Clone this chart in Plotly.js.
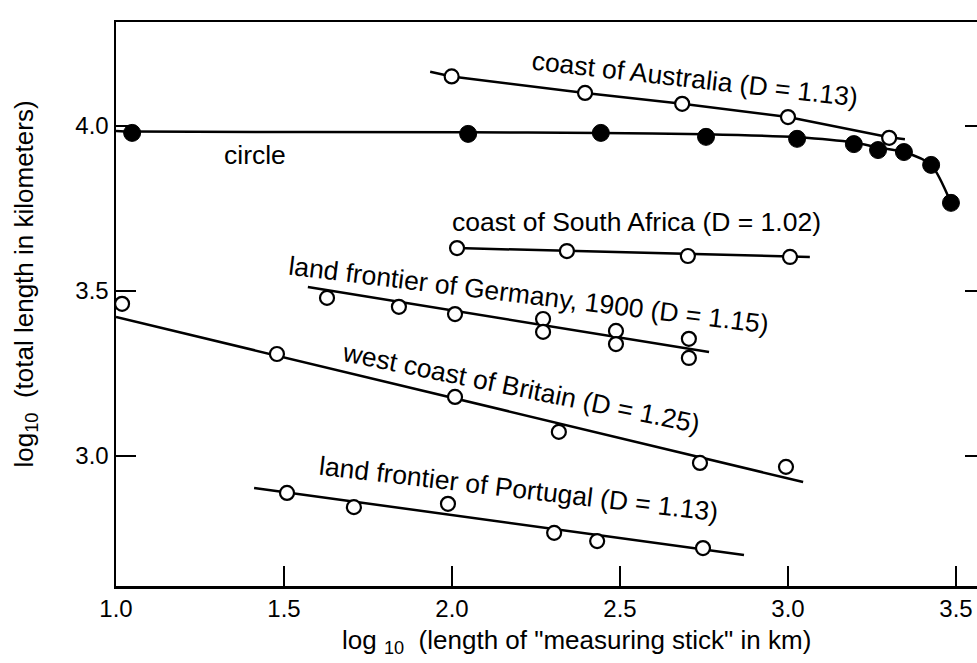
<!DOCTYPE html>
<html><head><meta charset="utf-8">
<script src="https://cdn.plot.ly/plotly-3.0.1.min.js"></script>
<style>html,body{margin:0;padding:0;background:#fff;}#chart{width:977px;height:663px;}</style>
</head><body><div id="chart"></div>
<script>
// ---- data (log10 stick length in km, log10 total length in km) ----
const circleX = [1.048, 2.048, 2.443, 2.756, 3.027, 3.196, 3.268, 3.345, 3.426, 3.485];
const circleY = [3.979, 3.976, 3.979, 3.967, 3.961, 3.945, 3.927, 3.921, 3.882, 3.767];
const circleLineX = [1.0, 1.048, 2.048, 2.443, 2.756, 3.027, 3.196, 3.268, 3.345, 3.426, 3.485];
const circleLineY = [3.985, 3.983, 3.981, 3.979, 3.975, 3.966, 3.950, 3.935, 3.921, 3.882, 3.767];

const australiaX = [1.999, 2.396, 2.685, 3.000, 3.301];
const australiaY = [4.150, 4.100, 4.067, 4.027, 3.964];
const australiaLineX = [1.935, 1.999, 2.396, 2.685, 3.000, 3.301, 3.348];
const australiaLineY = [4.164, 4.150, 4.100, 4.067, 4.027, 3.966, 3.960];

const southAfricaX = [2.015, 2.342, 2.702, 3.006];
const southAfricaY = [3.630, 3.621, 3.606, 3.603];
const southAfricaLineX = [2.015, 3.065];
const southAfricaLineY = [3.630, 3.603];

const germanyX = [1.628, 1.842, 2.009, 2.271, 2.271, 2.488, 2.488, 2.705, 2.705];
const germanyY = [3.479, 3.452, 3.430, 3.415, 3.376, 3.379, 3.339, 3.355, 3.297];
const germanyLineX = [1.571, 2.765];
const germanyLineY = [3.512, 3.315];

const britainX = [1.018, 1.479, 2.009, 2.318, 2.738, 2.994];
const britainY = [3.461, 3.309, 3.179, 3.073, 2.979, 2.967];
const britainLineX = [1.0, 3.045];
const britainLineY = [3.421, 2.921];

const portugalX = [1.509, 1.708, 1.988, 2.304, 2.432, 2.747];
const portugalY = [2.888, 2.845, 2.855, 2.767, 2.742, 2.721];
const portugalLineX = [1.411, 2.869];
const portugalLineY = [2.903, 2.700];

const xTicks = [1.0, 1.5, 2.0, 2.5, 3.0, 3.5];
const yTicks = [3.0, 3.5, 4.0];

const labels = [
  {text: 'coast of Australia (D = 1.13)', x: 2.723, y: 4.142, angle: 6.5},
  {text: 'circle', x: 1.414, y: 3.912, angle: 0},
  {text: 'coast of South Africa (D = 1.02)', x: 2.548, y: 3.709, angle: 0},
  {text: 'land frontier of Germany, 1900 (D = 1.15)', x: 2.229, y: 3.488, angle: 7},
  {text: 'west coast of Britain (D = 1.25)', x: 2.205, y: 3.206, angle: 11.5},
  {text: 'land frontier of Portugal (D = 1.13)', x: 2.199, y: 2.900, angle: 6.7}
];

// ---- styling ----
const FONT = 'Liberation Sans, Arial, Helvetica, sans-serif';
const lineStyle = {color: '#000', width: 2.5};
const openMarker = {symbol: 'circle', size: 14, color: '#fff', line: {color: '#000', width: 2.2}};
const filledMarker = {symbol: 'circle', size: 17, color: '#000', line: {color: '#000', width: 1}};

function lineTrace(x, y, shape) {
  return {x: x, y: y, type: 'scatter', mode: 'lines', line: Object.assign({shape: shape || 'linear', smoothing: 0.7}, lineStyle), hoverinfo: 'skip', showlegend: false};
}
function markTrace(x, y, name, marker) {
  return {x: x, y: y, type: 'scatter', mode: 'markers', name: name, marker: marker, showlegend: false};
}

const traces = [
  lineTrace(circleLineX, circleLineY, 'spline'),
  lineTrace(australiaLineX, australiaLineY),
  lineTrace(southAfricaLineX, southAfricaLineY),
  lineTrace(germanyLineX, germanyLineY),
  lineTrace(britainLineX, britainLineY),
  lineTrace(portugalLineX, portugalLineY),
  markTrace(circleX, circleY, 'circle', filledMarker),
  markTrace(australiaX, australiaY, 'coast of Australia', openMarker),
  markTrace(southAfricaX, southAfricaY, 'coast of South Africa', openMarker),
  markTrace(germanyX, germanyY, 'land frontier of Germany, 1900', openMarker),
  markTrace(britainX, britainY, 'west coast of Britain', openMarker),
  markTrace(portugalX, portugalY, 'land frontier of Portugal', openMarker),
  // invisible trace to carry the right-hand tick axis
  {x: [1.0], y: [3.0], type: 'scatter', mode: 'markers', yaxis: 'y2', marker: {opacity: 0}, hoverinfo: 'skip', showlegend: false}
];

const annotations = labels.map(l => ({
  x: l.x, y: l.y, xref: 'x', yref: 'y', text: l.text, showarrow: false,
  textangle: l.angle, font: {family: FONT, size: 26.5, color: '#000'}
}));
annotations.push({
  xref: 'paper', yref: 'paper', x: 0.535, y: -0.068, xanchor: 'center', yanchor: 'top',
  text: 'log <sub>10</sub>\u00a0 (length of "measuring stick" in km)', showarrow: false,
  borderpad: 0,
  font: {family: FONT, size: 26, color: '#000'}
});
annotations.push({
  xref: 'paper', yref: 'paper', x: -0.105, y: 0.5357, xanchor: 'center', yanchor: 'middle',
  text: 'log<sub>10</sub>\u00a0 (total length in kilometers)', showarrow: false, textangle: -90,
  font: {family: FONT, size: 26, color: '#000'}
});

const layout = {
  width: 977, height: 663,
  margin: {l: 116, r: 0, t: 22, b: 77},
  paper_bgcolor: '#fff', plot_bgcolor: '#fff',
  showlegend: false,
  font: {family: FONT, size: 24, color: '#000'},
  xaxis: {
    range: [1.0, 3.5625], tickvals: xTicks, ticktext: xTicks.map(v => v.toFixed(1)),
    ticks: 'inside', ticklen: 20, tickwidth: 2, tickcolor: '#000',
    showline: true, linewidth: 2.5, linecolor: '#000', mirror: true,
    showgrid: false, zeroline: false, fixedrange: true,
    tickfont: {family: FONT, size: 24, color: '#000'}
  },
  yaxis: {
    range: [2.606, 4.315], tickvals: yTicks, ticktext: yTicks.map(v => v.toFixed(1)),
    ticks: 'inside', ticklen: 20, tickwidth: 2, tickcolor: '#000',
    showline: true, linewidth: 2.5, linecolor: '#000', mirror: false,
    showgrid: false, zeroline: false, fixedrange: true,
    tickfont: {family: FONT, size: 24, color: '#000'}
  },
  yaxis2: {
    overlaying: 'y', side: 'right', matches: 'y', range: [2.606, 4.315],
    tickvals: yTicks, showticklabels: false,
    ticks: 'inside', ticklen: 12, tickwidth: 2, tickcolor: '#000',
    showline: false, showgrid: false, zeroline: false, fixedrange: true
  },
  annotations: annotations
};

Plotly.newPlot('chart', traces, layout, {staticPlot: true, displayModeBar: false});
</script>
</body></html>
